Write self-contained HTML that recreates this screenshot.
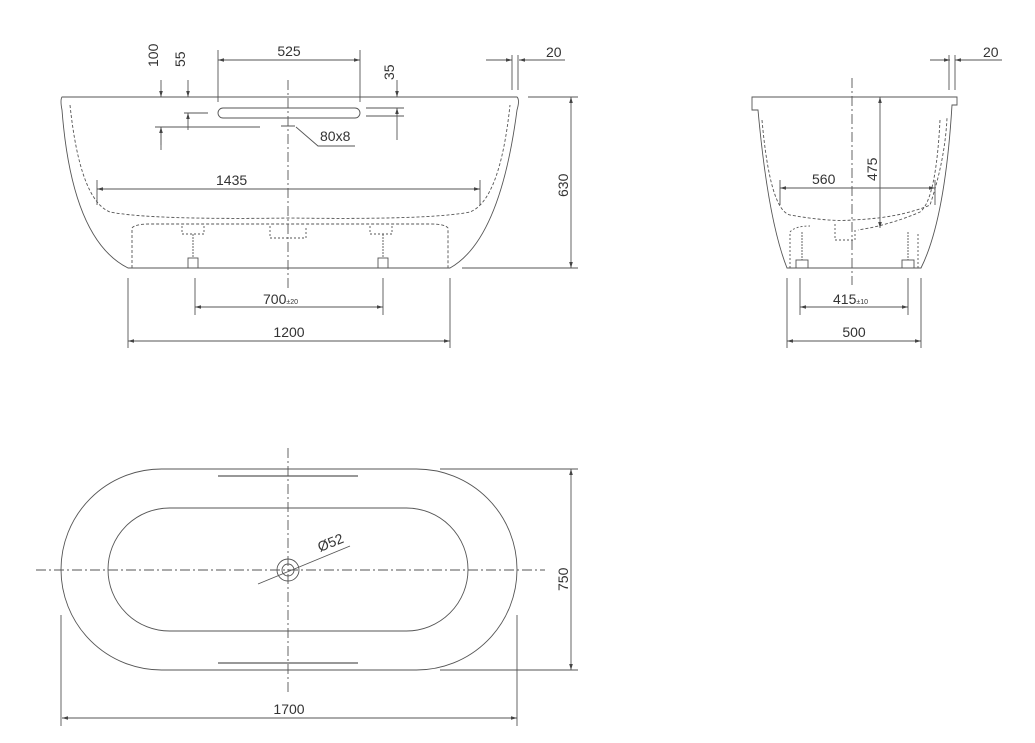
<!DOCTYPE html>
<html><head><meta charset="utf-8"><style>
html,body{margin:0;padding:0;background:#fff;}
svg{display:block}
text{font-family:"Liberation Sans",sans-serif;fill:#333;font-size:14px}
</style></head><body>
<svg width="1035" height="743" viewBox="0 0 1035 743" xmlns="http://www.w3.org/2000/svg">
<defs>
<marker id="a" viewBox="0 0 10 6" refX="10" refY="3" markerWidth="10" markerHeight="4" orient="auto-start-reverse"><path d="M0,0L10,3L0,6z" fill="#444"/></marker>
</defs>
<g stroke="#555" stroke-width="0.9" fill="none">
<path d="M62,97 L517,97 Q520,100 517,110 Q500,240 450,268 L128,268 Q72,240 62,110 Q60,100 62,97 Z"/>
<path d="M70,105 Q80,200 110,212 Q150,220 290,218 Q430,220 470,212 Q500,200 510,105" stroke-dasharray="3,2"/>
<path d="M132,268 L132,228 Q135,224 150,224 L430,224 Q445,224 448,228 L448,268" stroke-dasharray="3,2"/>
<path d="M182,226 v8 h22 v-8 M270,226 v12 h36 v-12 M370,226 v8 h22 v-8" stroke-dasharray="2,2"/>
<rect x="188" y="258" width="10" height="10"/><rect x="378" y="258" width="10" height="10"/>
<line x1="193" y1="234" x2="193" y2="258" stroke-dasharray="2,1"/><line x1="383" y1="234" x2="383" y2="258" stroke-dasharray="2,1"/>
<rect x="218" y="108" width="142" height="10" rx="5"/>
<line x1="288" y1="80" x2="288" y2="290" stroke-dasharray="10,3,2,3"/>
<path d="M281,126 h14 M296,127 L318,146 H355"/>
<line x1="218" y1="60" x2="360" y2="60" marker-start="url(#a)" marker-end="url(#a)"/>
<line x1="218" y1="50" x2="218" y2="102"/><line x1="360" y1="50" x2="360" y2="102"/>
<line x1="161" y1="80" x2="161" y2="97" marker-end="url(#a)"/><line x1="161" y1="127" x2="161" y2="150"/><line x1="161" y1="145" x2="161" y2="127" marker-end="url(#a)"/>
<line x1="155" y1="127" x2="260" y2="127"/>
<line x1="188" y1="80" x2="188" y2="97" marker-end="url(#a)"/><line x1="188" y1="130" x2="188" y2="113" marker-end="url(#a)"/>
<line x1="184" y1="113" x2="208" y2="113"/>
<line x1="397" y1="80" x2="397" y2="97" marker-end="url(#a)"/><line x1="397" y1="140" x2="397" y2="108" marker-end="url(#a)"/>
<line x1="366" y1="108" x2="404" y2="108"/><line x1="366" y1="116" x2="404" y2="116"/>
<line x1="97" y1="189" x2="480" y2="189" marker-start="url(#a)" marker-end="url(#a)"/>
<line x1="97" y1="180" x2="97" y2="205"/><line x1="480" y1="180" x2="480" y2="205"/>
<line x1="571" y1="97" x2="571" y2="268" marker-start="url(#a)" marker-end="url(#a)"/>
<line x1="528" y1="97" x2="578" y2="97"/><line x1="462" y1="268" x2="578" y2="268"/>
<line x1="486" y1="60" x2="512" y2="60" marker-end="url(#a)"/><line x1="540" y1="60" x2="519" y2="60" marker-end="url(#a)"/><line x1="540" y1="60" x2="565" y2="60"/>
<line x1="512" y1="55" x2="512" y2="90"/><line x1="518" y1="55" x2="518" y2="90"/>
<line x1="195" y1="307" x2="383" y2="307" marker-start="url(#a)" marker-end="url(#a)"/>
<line x1="195" y1="278" x2="195" y2="315"/><line x1="383" y1="278" x2="383" y2="315"/>
<line x1="128" y1="341" x2="450" y2="341" marker-start="url(#a)" marker-end="url(#a)"/>
<line x1="128" y1="278" x2="128" y2="348"/><line x1="450" y1="278" x2="450" y2="348"/>
<path d="M752,97 H957 V105 H952 Q945,220 921,268 H787 Q768,220 758,110 H752 Z"/>
<path d="M762,120 Q770,210 790,215 Q830,222 852,220 Q900,218 930,205 Q945,160 947,118" stroke-dasharray="3,2"/>
<path d="M940,120 Q936,200 920,212 Q890,225 858,230" stroke-dasharray="3,2"/>
<path d="M790,268 V232 Q795,226 810,226 M918,268 V232" stroke-dasharray="2,2"/>
<path d="M835,224 v16 h20 v-10" stroke-dasharray="2,2"/>
<rect x="796" y="260" width="12" height="8"/><rect x="902" y="260" width="12" height="8"/>
<line x1="802" y1="232" x2="802" y2="260" stroke-dasharray="2,1"/><line x1="908" y1="232" x2="908" y2="260" stroke-dasharray="2,1"/>
<line x1="852" y1="78" x2="852" y2="285" stroke-dasharray="10,3,2,3"/>
<line x1="880" y1="97" x2="880" y2="228" marker-start="url(#a)" marker-end="url(#a)"/>
<line x1="780" y1="188" x2="935" y2="188" marker-start="url(#a)" marker-end="url(#a)"/>
<line x1="780" y1="180" x2="780" y2="205"/><line x1="935" y1="180" x2="935" y2="205"/>
<line x1="930" y1="60" x2="950" y2="60" marker-end="url(#a)"/><line x1="975" y1="60" x2="955" y2="60" marker-end="url(#a)"/><line x1="975" y1="60" x2="1002" y2="60"/>
<line x1="949" y1="55" x2="949" y2="90"/><line x1="955" y1="55" x2="955" y2="90"/>
<line x1="800" y1="307" x2="908" y2="307" marker-start="url(#a)" marker-end="url(#a)"/>
<line x1="800" y1="278" x2="800" y2="315"/><line x1="908" y1="278" x2="908" y2="315"/>
<line x1="787" y1="341" x2="921" y2="341" marker-start="url(#a)" marker-end="url(#a)"/>
<line x1="787" y1="278" x2="787" y2="348"/><line x1="921" y1="278" x2="921" y2="348"/>
<rect x="61" y="469" width="456" height="201" rx="100.5"/>
<rect x="108" y="508" width="360" height="123" rx="61.5"/>
<line x1="218" y1="476" x2="358" y2="476" stroke="#777" stroke-width="1.5"/>
<line x1="218" y1="663" x2="358" y2="663" stroke="#777" stroke-width="1.5"/>
<line x1="36" y1="570" x2="545" y2="570" stroke-dasharray="10,3,2,3"/>
<line x1="288" y1="448" x2="288" y2="692" stroke-dasharray="10,3,2,3"/>
<circle cx="288" cy="570" r="11"/><circle cx="288" cy="570" r="6"/>
<line x1="258" y1="584" x2="350" y2="546"/>
<line x1="571" y1="469" x2="571" y2="670" marker-start="url(#a)" marker-end="url(#a)"/>
<line x1="440" y1="469" x2="578" y2="469"/><line x1="440" y1="670" x2="578" y2="670"/>
<line x1="62" y1="718" x2="517" y2="718" marker-start="url(#a)" marker-end="url(#a)"/>
<line x1="61" y1="615" x2="61" y2="726"/><line x1="517" y1="615" x2="517" y2="726"/>
</g>
<text x="289" y="56" text-anchor="middle">525</text>
<text transform="translate(158,67) rotate(-90)">100</text>
<text transform="translate(185,67) rotate(-90)">55</text>
<text transform="translate(394,80) rotate(-90)">35</text>
<text x="320" y="141">80x8</text>
<text x="546" y="57">20</text>
<text x="216" y="185">1435</text>
<text transform="translate(568,197) rotate(-90)">630</text>
<text x="263" y="304">700<tspan font-size="7">±20</tspan></text>
<text x="289" y="337" text-anchor="middle">1200</text>
<text x="983" y="57">20</text>
<text transform="translate(877,181) rotate(-90)">475</text>
<text x="812" y="184">560</text>
<text x="833" y="304">415<tspan font-size="7">±10</tspan></text>
<text x="854" y="337" text-anchor="middle">500</text>
<text transform="translate(320,552) rotate(-22)">Ø52</text>
<text transform="translate(568,591) rotate(-90)">750</text>
<text x="289" y="714" text-anchor="middle">1700</text>
</svg>
</body></html>
